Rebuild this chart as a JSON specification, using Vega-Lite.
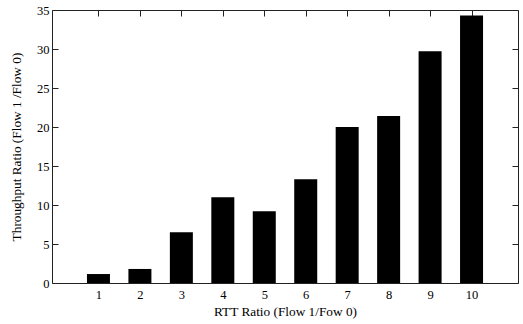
{
  "$schema": "https://vega.github.io/schema/vega-lite/v6.json",
  "width": 466,
  "height": 273,
  "autosize": "none",
  "padding": {"left": 52, "top": 10, "right": 5, "bottom": 41},
  "background": "white",
  "config": {
    "font": "Liberation Serif",
    "view": {"stroke": null},
    "axis": {
      "grid": false,
      "domainColor": "#222",
      "tickColor": "#222",
      "labelColor": "black",
      "titleColor": "black",
      "labelFont": "Liberation Serif",
      "titleFont": "Liberation Serif",
      "labelFontSize": 12.5,
      "titleFontSize": 13.3,
      "titleFontWeight": "normal",
      "tickSize": -6,
      "domainWidth": 1
    }
  },
  "data": {
    "values": [
      {"rtt": 1, "tp": 1.15},
      {"rtt": 2, "tp": 1.8},
      {"rtt": 3, "tp": 6.5},
      {"rtt": 4, "tp": 11.0},
      {"rtt": 5, "tp": 9.2},
      {"rtt": 6, "tp": 13.3},
      {"rtt": 7, "tp": 20.0},
      {"rtt": 8, "tp": 21.4},
      {"rtt": 9, "tp": 29.7},
      {"rtt": 10, "tp": 34.3}
    ]
  },
  "layer": [
    {
      "mark": {"type": "bar", "color": "black", "width": 23},
      "encoding": {
        "x": {
          "field": "rtt", "type": "quantitative",
          "scale": {"domain": [0, 11], "nice": false, "zero": false},
          "axis": {"orient": "bottom", "values": [1,2,3,4,5,6,7,8,9,10], "title": "RTT Ratio (Flow 1/Fow 0)", "labelPadding": 11, "titlePadding": 4}
        },
        "y": {
          "field": "tp", "type": "quantitative",
          "scale": {"domain": [0, 35], "nice": false},
          "axis": {"orient": "left", "values": [0,5,10,15,20,25,30,35], "title": "Throughput Ratio (Flow 1 /Flow 0)", "labelPadding": 9, "titlePadding": 13}
        }
      }
    },
    {
      "mark": {"type": "bar", "opacity": 0, "width": 1},
      "encoding": {
        "x": {
          "field": "rtt", "type": "quantitative",
          "axis": {"orient": "top", "values": [1,2,3,4,5,6,7,8,9,10], "labels": false, "title": null}
        },
        "y": {
          "field": "tp", "type": "quantitative",
          "axis": {"orient": "right", "values": [0,5,10,15,20,25,30,35], "labels": false, "title": null}
        }
      }
    }
  ],
  "resolve": {"axis": {"x": "independent", "y": "independent"}}
}
